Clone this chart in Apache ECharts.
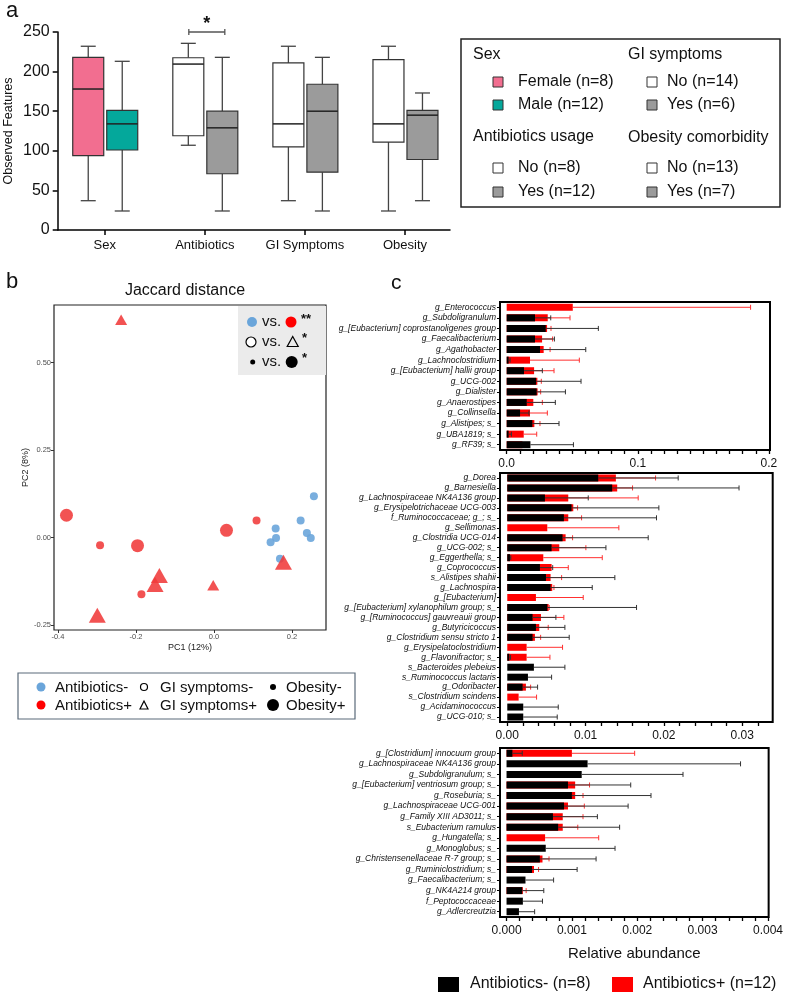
<!DOCTYPE html>
<html><head><meta charset="utf-8">
<script src="https://cdn.jsdelivr.net/npm/echarts/dist/echarts.min.js"></script>
<style>html,body{margin:0;padding:0;background:#fff}#c{width:786px;height:992px}</style>
</head><body><div id="c"></div>
<script>
const FONT = 'Liberation Sans, Arial, Helvetica, sans-serif';

// ---------- Panel a: box plots ----------
const boxGroups = ['Sex', 'Antibiotics', 'GI Symptoms', 'Obesity'];
const boxTicks = [0, 1, 2, 3];
// [min, Q1, median, Q3, max]
const boxLeft  = [[37, 94, 178, 218, 232], [107, 119, 209.5, 217.5, 235.7], [37, 105, 134, 211, 232], [24, 111, 134, 215, 232]];
const boxRight = [[24, 101, 134, 151, 213], [24, 71, 129, 150, 218], [24, 73, 150, 184, 218], [37, 89, 145, 151, 173]];
const sigGroups = [1];
const sigValue = [250];

// ---------- Panel b: PCoA ----------
const pc1 = [-0.238, -0.378, -0.292, -0.196, -0.140, -0.151, -0.186, -0.299, -0.002, 0.032, 0.109, 0.178,
             0.256, 0.222, 0.238, 0.248, 0.158, 0.159, 0.145, 0.169];
const pc2 = [0.623, 0.064, -0.022, -0.023, -0.108, -0.134, -0.162, -0.222, -0.136, 0.021, 0.049, -0.070,
             0.118, 0.049, 0.013, -0.001, 0.026, -0.001, -0.013, -0.060];
const abx  = [1,1,1,1,1,1,1,1,1,1,1,1, 0,0,0,0,0,0,0,0];
const gi   = [1,0,0,0,1,1,0,1,1,0,0,1, 0,0,0,0,0,0,0,0];
const obes = [0,1,0,1,1,1,0,1,0,1,0,1, 0,0,0,0,0,0,0,0];
const pcXTicks = [-0.4, -0.2, 0.0, 0.2];
const pcYTicks = [-0.25, 0.0, 0.25, 0.5];

// ---------- Panel c: relative abundance ----------
const c1Names = ['g_Enterococcus','g_Subdoligranulum','g_[Eubacterium] coprostanoligenes group','g_Faecalibacterium','g_Agathobacter','g_Lachnoclostridium','g_[Eubacterium] hallii group','g_UCG-002','g_Dialister','g_Anaerostipes','g_Collinsella','g_Alistipes; s_','g_UBA1819; s_','g_RF39; s_'];
const c1Neg   = [0, 0.0216, 0.0298, 0.0216, 0.0254, 0.0015, 0.0132, 0.0224, 0.0229, 0.0153, 0.0102, 0.0196, 0.0015, 0.0181];
const c1NegUp = [0, 0.0336, 0.0699, 0.0364, 0.0603, 0.0026, 0.0272, 0.0567, 0.0448, 0.0371, 0.0170, 0.0399, 0.0036, 0.0509];
const c1Pos   = [0.0504, 0.0313, 0.0308, 0.0270, 0.0282, 0.0178, 0.0209, 0.0234, 0.0236, 0.0203, 0.0178, 0.0211, 0.0130, 0.0120];
const c1PosUp = [0.186, 0.0483, 0.0338, 0.0350, 0.0331, 0.0554, 0.0361, 0.0264, 0.0259, 0.0272, 0.0310, 0.0254, 0.0229, 0.0160];
const c1Labels = [0, 0.1, 0.2];

const c2Names = ['g_Dorea','g_Barnesiella','g_Lachnospiraceae NK4A136 group','g_Erysipelotrichaceae UCG-003','f_Ruminococcaceae; g_; s_','g_Sellimonas','g_Clostridia UCG-014','g_UCG-002; s_','g_Eggerthella; s_','g_Coprococcus','s_Alistipes shahii','g_Lachnospira','g_[Eubacterium]','g_[Eubacterium] xylanophilum group; s_','g_[Ruminococcus] gauvreauii group','g_Butyricicoccus','g_Clostridium sensu stricto 1','g_Erysipelatoclostridium','g_Flavonifractor; s_','s_Bacteroides plebeius','s_Ruminococcus lactaris','g_Odoribacter','s_Clostridium scindens','g_Acidaminococcus','g_UCG-010; s_'];
const c2Neg   = [0.01162, 0.0134, 0.00481, 0.00821, 0.00723, 0, 0.00706, 0.00566, 0.00034, 0.00417, 0.00494, 0.00553, 0, 0.00511, 0.00323, 0.00366, 0.00323, 0, 0.00026, 0.0034, 0.00264, 0.00196, 0, 0.00204, 0.00204];
const c2NegUp = [0.02183, 0.0296, 0.01034, 0.01936, 0.01906, 0, 0.018, 0.0126, 0.00045, 0.0058, 0.01374, 0.01085, 0, 0.01651, 0.00621, 0.00736, 0.00791, 0, 0.00042, 0.00736, 0.00566, 0.00387, 0, 0.00651, 0.00638];
const c2Pos   = [0.01387, 0.01404, 0.00779, 0.00843, 0.00779, 0.00511, 0.00745, 0.00664, 0.0046, 0.00566, 0.00553, 0.00574, 0.00366, 0.00528, 0.0043, 0.00408, 0.00353, 0.00247, 0.00247, 0, 0, 0.00238, 0.00145, 0, 0];
const c2PosUp = [0.01894, 0.016, 0.01672, 0.00898, 0.00949, 0.01425, 0.00834, 0.01004, 0.01213, 0.00779, 0.00694, 0.00596, 0.0097, 0.00536, 0.00723, 0.00523, 0.00426, 0.00706, 0.00545, 0, 0, 0.00298, 0.00374, 0, 0];
const c2Labels = [0, 0.01, 0.02, 0.03];

const c3Names = ['g_[Clostridium] innocuum group','g_Lachnospiraceae NK4A136 group','g_Subdoligranulum; s_','g_[Eubacterium] ventriosum group; s_','g_Roseburia; s_','g_Lachnospiraceae UCG-001','g_Family XIII AD3011; s_','s_Eubacterium ramulus','g_Hungatella; s_','g_Monoglobus; s_','g_Christensenellaceae R-7 group; s_','g_Ruminiclostridium; s_','g_Faecalibacterium; s_','g_NK4A214 group','f_Peptococcaceae','g_Adlercreutzia'];
const c3Neg   = [0.00009, 0.00124, 0.00115, 0.00094, 0.001, 0.00088, 0.00071, 0.00079, 0, 0.0006, 0.00051, 0.00039, 0.00029, 0.00024, 0.00025, 0.00019];
const c3NegUp = [0.00024, 0.00358, 0.0027, 0.0019, 0.00221, 0.00186, 0.00139, 0.00173, 0, 0.00166, 0.00137, 0.00108, 0.00072, 0.00057, 0.00055, 0.00043];
const c3Pos   = [0.001, 0, 0, 0.00105, 0.00105, 0.00094, 0.00086, 0.00086, 0.00059, 0, 0.00055, 0.00042, 0, 0.00025, 0, 0];
const c3PosUp = [0.00196, 0, 0, 0.00127, 0.00117, 0.00119, 0.00117, 0.00109, 0.00141, 0, 0.00065, 0.00049, 0, 0.0003, 0, 0];
const c3Labels = [0, 0.001, 0.002, 0.003, 0.004];

// ---------- styles ----------
const leftFill  = ['#F26E90', '#FFFFFF', '#FFFFFF', '#FFFFFF'];
const rightFill = ['#04A89B', '#9B9B9B', '#9B9B9B', '#9B9B9B'];
const RED_PT = '#F03A3A', BLUE_PT = '#6AA5DA';

function steps(maxV, step) { const a = []; const n = Math.round(maxV / step); for (let k = 0; k <= n; k++) a.push(+(k * step).toFixed(6)); return a; }

const chart = echarts.init(document.getElementById('c'), null, {renderer: 'canvas', width: 786, height: 992});

function boxSeries(boxes, side, fills) {
  return {
    type: 'custom', xAxisIndex: 0, yAxisIndex: 0, z: 3, clip: false,
    data: boxes.map((b, i) => [boxTicks[i], b[0], b[1], b[2], b[3], b[4]]),
    encode: {x: 0, y: [1, 2, 3, 4, 5]},
    renderItem(params, api) {
      const i = api.value(0);
      const cx = api.coord([i, 0])[0] + (side < 0 ? -16.5 : 17.5);
      const y = k => api.coord([i, api.value(k)])[1];
      const yMin = y(1), yQ1 = y(2), yMed = y(3), yQ3 = y(4), yMax = y(5);
      const w = 31, cap = 15;
      const wk = {stroke: '#444', lineWidth: 1.3};
      return {type: 'group', children: [
        {type: 'line', shape: {x1: cx, y1: yMin, x2: cx, y2: yQ1}, style: wk},
        {type: 'line', shape: {x1: cx, y1: yQ3, x2: cx, y2: yMax}, style: wk},
        {type: 'line', shape: {x1: cx - cap / 2, y1: yMin, x2: cx + cap / 2, y2: yMin}, style: wk},
        {type: 'line', shape: {x1: cx - cap / 2, y1: yMax, x2: cx + cap / 2, y2: yMax}, style: wk},
        {type: 'rect', shape: {x: cx - w / 2, y: yQ3, width: w, height: yQ1 - yQ3}, style: {fill: fills[params.dataIndex], stroke: '#333', lineWidth: 1.2}},
        {type: 'line', shape: {x1: cx - w / 2, y1: yMed, x2: cx + w / 2, y2: yMed}, style: {stroke: '#222', lineWidth: 1.5}}
      ]};
    }
  };
}

function errSeries(axis, means, ups, color, z) {
  return {
    type: 'custom', xAxisIndex: axis, yAxisIndex: axis, z: z, clip: false,
    data: means.map((m, i) => [m, ups[i], i]),
    encode: {x: [0, 1], y: 2},
    renderItem(params, api) {
      const m = api.value(0), u = api.value(1), c = api.value(2);
      if (!(u > m)) return null;
      const p0 = api.coord([m, c]), p1 = api.coord([u, c]);
      const st = {stroke: color, lineWidth: 1};
      return {type: 'group', children: [
        {type: 'line', shape: {x1: p0[0], y1: p0[1], x2: p1[0], y2: p1[1]}, style: st},
        {type: 'line', shape: {x1: p1[0], y1: p1[1] - 2.5, x2: p1[0], y2: p1[1] + 2.5}, style: st}
      ]};
    }
  };
}

function barSeries(axis, vals, color, z, gap) {
  const s = {type: 'bar', xAxisIndex: axis, yAxisIndex: axis, data: vals, barWidth: 7, z: z,
    itemStyle: {color: color}, animation: false};
  if (gap) s.barGap = '-100%';
  return s;
}

function cX(gridIdx, min, max, ticks, labels, dec, extra) {
  return Object.assign({
    gridIndex: gridIdx, type: 'value', min: min, max: max,
    splitLine: {show: false},
    axisLine: {show: false, onZero: false},
    axisTick: {show: true, customValues: ticks, length: 4, lineStyle: {color: '#000', width: 1.3}},
    axisLabel: {customValues: labels, formatter: v => (+v).toFixed(dec), fontSize: 12, color: '#111', margin: 8, fontFamily: FONT}
  }, extra || {});
}
function cY(gridIdx, names) {
  return {
    gridIndex: gridIdx, type: 'category', data: names, inverse: true,
    axisLine: {show: false, onZero: false},
    axisTick: {show: true, alignWithLabel: true, length: 3, lineStyle: {color: '#000', width: 1}},
    axisLabel: {interval: 0, fontSize: 8.5, fontStyle: 'italic', color: '#111', margin: 4, fontFamily: FONT}
  };
}

const idxBlue = pc1.map((v, i) => i).filter(i => abx[i] === 0);
const idxRed  = pc1.map((v, i) => i).filter(i => abx[i] === 1);
function ptItem(i) {
  const tri = gi[i] === 1, big = obes[i] === 1;
  return {value: [pc1[i], pc2[i]], symbol: tri ? 'triangle' : 'circle',
    symbolSize: tri ? (big ? [17, 15] : [12, 10.5]) : (big ? 13 : 8)};
}

function T(x, y, text, size, opts) {
  return {type: 'text', x: x, y: y, silent: true, z: 10,
    style: Object.assign({text: text, fontSize: size, fontFamily: FONT, fill: '#111',
      align: 'left', verticalAlign: 'middle', textAlign: 'left', textVerticalAlign: 'middle'}, (opts || {}))};
}
function sq(x, y, s, fill, stroke) {
  return {type: 'rect', z: 10, shape: {x: x - s / 2, y: y - s / 2, width: s, height: s}, style: {fill: fill, stroke: stroke || '#333', lineWidth: 1}, silent: true};
}
function dot(x, y, r, fill, stroke, lw) {
  return {type: 'circle', z: 10, shape: {cx: x, cy: y, r: r}, style: {fill: fill, stroke: stroke || null, lineWidth: lw || 0}, silent: true};
}
function tri(x, y, w, h, lw) {
  return {type: 'polygon', z: 10, shape: {points: [[x - w / 2, y + h / 2], [x + w / 2, y + h / 2], [x, y - h / 2]]}, style: {fill: 'none', stroke: '#000', lineWidth: lw || 1.2}, silent: true};
}

const graphics = [
  // panel labels
  T(6, 11, 'a', 22), T(6, 282, 'b', 22), T(391, 283, 'c', 21),
  // panel a legend
  {type: 'rect', z: 5, shape: {x: 461, y: 39, width: 319, height: 168}, style: {fill: 'none', stroke: '#222', lineWidth: 1.5}, silent: true},
  T(473, 55, 'Sex', 16), T(628, 55, 'GI symptoms', 16),
  sq(498, 82, 10, '#F26E90'), T(518, 82, 'Female (n=8)', 16),
  sq(498, 105, 10, '#04A89B'), T(518, 105, 'Male (n=12)', 16),
  T(473, 137, 'Antibiotics usage', 16),
  sq(498, 168, 10, '#FFFFFF'), T(518, 168, 'No (n=8)', 16),
  sq(498, 192, 10, '#9B9B9B'), T(518, 192, 'Yes (n=12)', 16),
  sq(652, 82, 10, '#FFFFFF'), T(667, 82, 'No (n=14)', 16),
  sq(652, 105, 10, '#9B9B9B'), T(667, 105, 'Yes (n=6)', 16),
  T(628, 138, 'Obesity comorbidity', 16),
  sq(652, 168, 10, '#FFFFFF'), T(667, 168, 'No (n=13)', 16),
  sq(652, 192, 10, '#9B9B9B'), T(667, 192, 'Yes (n=7)', 16),
  // panel b title
  T(185, 291, 'Jaccard distance', 16, {align: 'center', textAlign: 'center'}),
  // panel b inset legend
  {type: 'rect', z: 5, shape: {x: 238, y: 306, width: 88, height: 69}, style: {fill: '#EBEBEB'}, silent: true},
  dot(252, 322, 5, '#6AA5DA'), T(262, 322, 'vs.', 15), dot(291, 322, 5.5, '#FF0000'), T(301, 319, '**', 13, {fontWeight: 'bold'}),
  dot(251, 342, 5, '#FFFFFF', '#000', 1.2), T(262, 342, 'vs.', 15), tri(292.7, 341.5, 11, 10), T(302, 338, '*', 13, {fontWeight: 'bold'}),
  dot(252.7, 362, 2.5, '#000'), T(262, 362, 'vs.', 15), dot(291.7, 362, 6, '#000'), T(302, 358, '*', 13, {fontWeight: 'bold'}),
  // panel b bottom legend
  {type: 'rect', z: 5, shape: {x: 18, y: 673, width: 337, height: 46}, style: {fill: '#FFFFFF', stroke: '#5A6A7A', lineWidth: 1.2}, silent: true},
  dot(41, 687, 4.5, '#6AA5DA'), T(55, 688, 'Antibiotics-', 15),
  dot(41, 705, 4.5, '#FF0000'), T(55, 706, 'Antibiotics+', 15),
  dot(144, 687, 3.5, '#FFFFFF', '#000', 1.2), T(160, 688, 'GI symptoms-', 15),
  tri(144, 705, 8, 8), T(160, 706, 'GI symptoms+', 15),
  dot(273, 687, 3, '#000'), T(286, 688, 'Obesity-', 15),
  dot(273, 705, 6, '#000'), T(286, 706, 'Obesity+', 15),
  // panel c bottom legend
  {type: 'rect', z: 10, shape: {x: 438, y: 977, width: 21, height: 21}, style: {fill: '#000'}, silent: true},
  T(470, 984, 'Antibiotics- (n=8)', 16),
  {type: 'rect', z: 10, shape: {x: 612, y: 977, width: 21, height: 21}, style: {fill: '#FF0000'}, silent: true},
  T(643, 984, 'Antibiotics+ (n=12)', 16)
];

const option = {
  animation: false,
  backgroundColor: '#fff',
  textStyle: {fontFamily: FONT},
  grid: [
    {left: 57.7, top: 32, width: 392.3, height: 198, show: false},
    {left: 54, top: 305, width: 272, height: 325, show: true, borderColor: '#222', borderWidth: 1.2, backgroundColor: '#fff'},
    {left: 500, top: 302, width: 270, height: 148, show: true, borderColor: '#000', borderWidth: 2},
    {left: 500, top: 473, width: 272.7, height: 249, show: true, borderColor: '#000', borderWidth: 2},
    {left: 500, top: 748, width: 274, height: 169, show: true, borderColor: '#000', borderWidth: 2}
  ],
  xAxis: [
    {gridIndex: 0, type: 'value', min: -0.47, max: 3.45, splitLine: {show: false},
     axisLine: {show: true, onZero: false, lineStyle: {color: '#000', width: 1.5}},
     axisTick: {show: true, customValues: boxTicks, length: 5, lineStyle: {color: '#000', width: 1.5}},
     axisLabel: {customValues: boxTicks, formatter: v => boxGroups[Math.round(v)], fontSize: 13, color: '#111', margin: 9, fontFamily: FONT}},
    {gridIndex: 1, type: 'value', min: -0.41, max: 0.287, splitLine: {show: false},
     axisLine: {show: false, onZero: false},
     axisTick: {show: true, customValues: pcXTicks, length: 3, lineStyle: {color: '#333', width: 1}},
     axisLabel: {customValues: pcXTicks, formatter: v => (+v).toFixed(1), fontSize: 7.5, color: '#4D4D4D', margin: 3, fontFamily: FONT},
     name: 'PC1 (12%)', nameLocation: 'middle', nameGap: 13, nameTextStyle: {fontSize: 9, color: '#222', fontFamily: FONT}},
    cX(2, -0.0051, 0.2008, steps(0.2, 0.01), c1Labels, 1),
    cX(3, -0.00093, 0.0339, steps(0.034, 0.002), c2Labels, 2),
    cX(4, -0.0001, 0.00401, steps(0.004, 0.0002), c3Labels, 3,
       {name: 'Relative abundance', nameLocation: 'middle', nameGap: 29, nameTextStyle: {fontSize: 15, color: '#111', fontFamily: FONT}})
  ],
  yAxis: [
    {gridIndex: 0, type: 'value', min: 0, max: 250, interval: 50, splitLine: {show: false},
     axisLine: {show: true, onZero: false, lineStyle: {color: '#000', width: 1.5}},
     axisTick: {show: true, length: 5, lineStyle: {color: '#000', width: 1.5}},
     axisLabel: {fontSize: 16, color: '#111', margin: 8, fontFamily: FONT},
     name: 'Observed Features', nameLocation: 'middle', nameGap: 43, nameTextStyle: {fontSize: 12.5, color: '#111', fontFamily: FONT}},
    {gridIndex: 1, type: 'value', min: -0.264, max: 0.665, splitLine: {show: false},
     axisLine: {show: false, onZero: false},
     axisTick: {show: true, customValues: pcYTicks, length: 3, lineStyle: {color: '#333', width: 1}},
     axisLabel: {customValues: pcYTicks, formatter: v => (+v).toFixed(2), fontSize: 7.5, color: '#4D4D4D', margin: 3, fontFamily: FONT},
     name: 'PC2 (8%)', nameLocation: 'middle', nameGap: 22, nameTextStyle: {fontSize: 9, color: '#222', fontFamily: FONT}},
    cY(2, c1Names), cY(3, c2Names), cY(4, c3Names)
  ],
  series: [
    boxSeries(boxLeft, -1, leftFill),
    boxSeries(boxRight, 1, rightFill),
    {type: 'custom', xAxisIndex: 0, yAxisIndex: 0, z: 4, clip: false,
     data: sigGroups.map((g, i) => [g, sigValue[i]]), encode: {x: 0, y: 1},
     renderItem(params, api) {
       const p = api.coord([api.value(0), api.value(1)]);
       const x1 = p[0] - 16, x2 = p[0] + 20, y = p[1];
       const st = {stroke: '#555', lineWidth: 1.3};
       return {type: 'group', children: [
         {type: 'line', shape: {x1: x1, y1: y, x2: x2, y2: y}, style: st},
         {type: 'line', shape: {x1: x1, y1: y - 3, x2: x1, y2: y + 3}, style: st},
         {type: 'line', shape: {x1: x2, y1: y - 3, x2: x2, y2: y + 3}, style: st},
         {type: 'text', style: {text: '*', x: p[0] + 2, y: y - 8, fontSize: 18, fontWeight: 'bold', fill: '#111', fontFamily: FONT,
           align: 'center', verticalAlign: 'middle', textAlign: 'center', textVerticalAlign: 'middle'}}
       ]};
     }},
    {type: 'scatter', xAxisIndex: 1, yAxisIndex: 1, z: 3, data: idxBlue.map(ptItem), itemStyle: {color: BLUE_PT, opacity: 0.9}},
    {type: 'scatter', xAxisIndex: 1, yAxisIndex: 1, z: 4, data: idxRed.map(ptItem), itemStyle: {color: RED_PT, opacity: 0.88}},
    // c1
    barSeries(2, c1Pos, '#FF0000', 2, false), errSeries(2, c1Pos, c1PosUp, '#FF3030', 3),
    barSeries(2, c1Neg, '#000000', 4, true), errSeries(2, c1Neg, c1NegUp, '#333333', 5),
    // c2
    barSeries(3, c2Pos, '#FF0000', 2, false), errSeries(3, c2Pos, c2PosUp, '#FF3030', 3),
    barSeries(3, c2Neg, '#000000', 4, true), errSeries(3, c2Neg, c2NegUp, '#333333', 5),
    // c3
    barSeries(4, c3Pos, '#FF0000', 2, false), errSeries(4, c3Pos, c3PosUp, '#FF3030', 3),
    barSeries(4, c3Neg, '#000000', 4, true), errSeries(4, c3Neg, c3NegUp, '#333333', 5)
  ],
  graphic: graphics
};
chart.setOption(option);
</script>
</body></html>
